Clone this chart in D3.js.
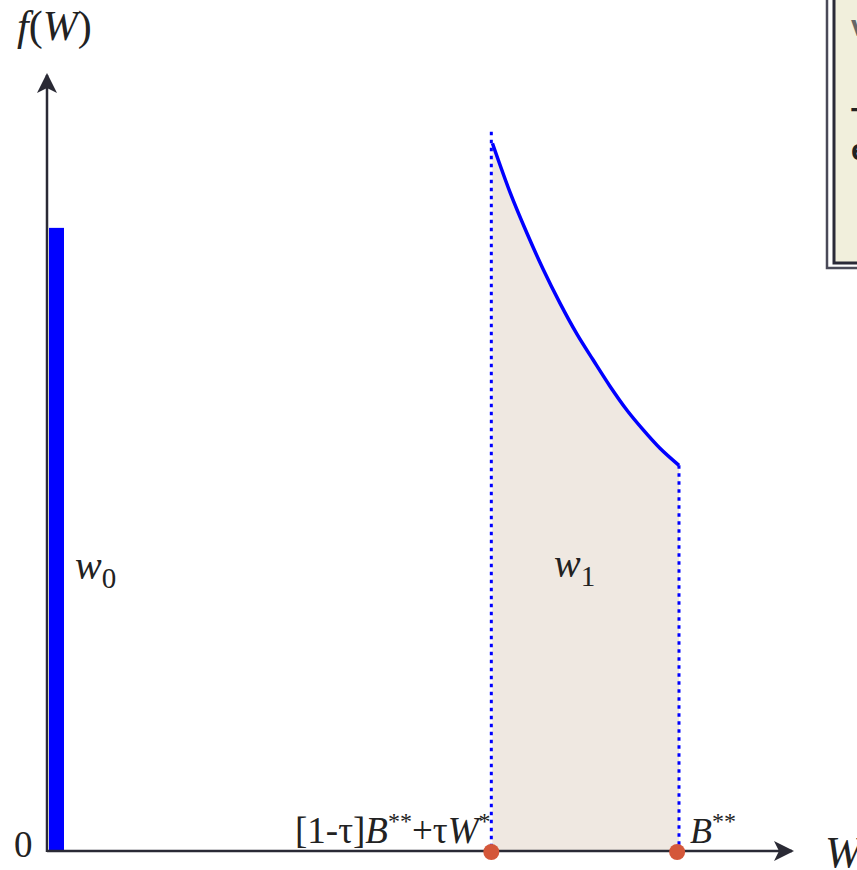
<!DOCTYPE html>
<html>
<head>
<meta charset="utf-8">
<script src="https://cdn.jsdelivr.net/npm/d3@7"></script>
<style>
  html, body { margin: 0; padding: 0; background: #fff; }
  svg { display: block; }
  text.serif { font-family: "Liberation Serif", "Times New Roman", serif; fill: #222; }
  text.note { font-family: "Liberation Sans", Arial, sans-serif; font-weight: bold; }
</style>
</head>
<body>
<svg id="chart" width="857" height="870"></svg>
<script>
// Wealth axis (W) and density axis f(W), arbitrary units
const xDomain = [0, 100];
const yDomain = [0, 1];

// Mass point at W = 0 (height of the w0 spike)
const massPointW = [0];
const massPointHeight = [0.803];

// Support of the continuous part: [1-τ]B** + τW*  to  B**
const lowerBound = [59.8];
const upperBound = [85.06];
const lowerDottedTop = [0.927];

// Density f(W) over the continuous part
const densityW = [59.95, 62.31, 64.60, 66.76, 69.04, 71.33, 73.49, 75.77, 78.06, 80.22, 82.50, 85.06];
const densityF = [0.912, 0.849, 0.796, 0.750, 0.706, 0.666, 0.633, 0.599, 0.568, 0.543, 0.519, 0.497];

const svg = d3.select("#chart");
const x = d3.scaleLinear().domain(xDomain).range([47, 790]);
const y = d3.scaleLinear().domain(yDomain).range([851, 75]);

const density = densityW.map((w, i) => ({ w, f: densityF[i] }));

// Shaded area under the density
svg.append("path")
  .datum(density)
  .attr("d", d3.area().x(d => x(d.w)).y0(y(0)).y1(d => y(d.f)).curve(d3.curveMonotoneX))
  .attr("fill", "#efe8e1");

// Density curve
svg.append("path")
  .datum(density)
  .attr("d", d3.line().x(d => x(d.w)).y(d => y(d.f)).curve(d3.curveMonotoneX))
  .attr("fill", "none")
  .attr("stroke", "#0000ff")
  .attr("stroke-width", 3.5);

// Dotted bounds of the support
const bounds = [
  { w: lowerBound[0], top: lowerDottedTop[0] },
  { w: upperBound[0], top: densityF[densityF.length - 1] }
];
svg.selectAll("line.bound")
  .data(bounds)
  .join("line")
  .attr("class", "bound")
  .attr("x1", d => x(d.w)).attr("x2", d => x(d.w))
  .attr("y1", d => y(d.top)).attr("y2", y(0))
  .attr("stroke", "#0000ff")
  .attr("stroke-width", 3)
  .attr("stroke-dasharray", "3.5,4.5");

// Mass point spike w0
svg.selectAll("rect.mass")
  .data(massPointW.map((w, i) => ({ w, h: massPointHeight[i] })))
  .join("rect")
  .attr("class", "mass")
  .attr("x", d => x(d.w) + 2)
  .attr("y", d => y(d.h))
  .attr("width", 15)
  .attr("height", d => y(0) - y(d.h))
  .attr("fill", "#0000ff");

// Arrowhead
svg.append("defs").append("marker")
  .attr("id", "arrow")
  .attr("viewBox", "0 0 10 10")
  .attr("refX", 9).attr("refY", 5)
  .attr("markerWidth", 20).attr("markerHeight", 20)
  .attr("markerUnits", "userSpaceOnUse")
  .attr("orient", "auto")
  .append("path")
  .attr("d", "M0,0 L10,5 L0,10 L2.5,5 Z")
  .attr("fill", "#2a2a35");

// Axes
svg.append("line")
  .attr("x1", x(0)).attr("x2", x(0))
  .attr("y1", y(0) + 1).attr("y2", 75)
  .attr("stroke", "#2a2a35").attr("stroke-width", 2.5)
  .attr("marker-end", "url(#arrow)");
svg.append("line")
  .attr("x1", x(0)).attr("x2", 792)
  .attr("y1", y(0)).attr("y2", y(0))
  .attr("stroke", "#2a2a35").attr("stroke-width", 2.5)
  .attr("marker-end", "url(#arrow)");

// Support endpoints on the W axis
svg.selectAll("circle.end")
  .data([lowerBound[0], upperBound[0] - 0.25])
  .join("circle")
  .attr("class", "end")
  .attr("cx", d => x(d))
  .attr("cy", y(0) + 1)
  .attr("r", 8)
  .attr("fill", "#d4573a");

// Axis titles
const fw = svg.append("text").attr("class", "serif").attr("x", 17).attr("y", 40).attr("font-size", 42);
fw.append("tspan").attr("font-style", "italic").text("f");
fw.append("tspan").text("(");
fw.append("tspan").attr("font-style", "italic").text("W");
fw.append("tspan").text(")");

svg.append("text").attr("class", "serif").attr("x", 825).attr("y", 867).attr("font-size", 44)
  .attr("font-style", "italic").text("W");

svg.append("text").attr("class", "serif").attr("x", 14).attr("y", 857).attr("font-size", 37).text("0");

// Bound labels
const lb = svg.append("text").attr("class", "serif").attr("x", 295).attr("y", 843).attr("font-size", 37);
lb.append("tspan").text("[1-τ]");
lb.append("tspan").attr("font-style", "italic").text("B");
lb.append("tspan").attr("font-size", 24).attr("dy", -14).text("**");
lb.append("tspan").attr("dy", 14).text("+τ");
lb.append("tspan").attr("font-style", "italic").text("W");
lb.append("tspan").attr("font-size", 24).attr("dy", -14).text("*");

const ub = svg.append("text").attr("class", "serif").attr("x", 690).attr("y", 843).attr("font-size", 36);
ub.append("tspan").attr("font-style", "italic").text("B");
ub.append("tspan").attr("font-size", 24).attr("dy", -14).text("**");

// Region labels
function massLabel(px, py, sub) {
  const t = svg.append("text").attr("class", "serif").attr("x", px).attr("y", py).attr("font-size", 40);
  t.append("tspan").attr("font-style", "italic").text("w");
  t.append("tspan").attr("font-size", 29).attr("dy", 9).text(sub);
}
massLabel(75, 579, "0");
massLabel(554, 577, "1");

// Note box at the right edge
const box = svg.append("g");
box.append("rect").attr("x", 827).attr("y", -10).attr("width", 60).attr("height", 278)
  .attr("fill", "none").attr("stroke", "#4a4a58").attr("stroke-width", 2.5);
box.append("rect").attr("x", 834).attr("y", -10).attr("width", 60).attr("height", 273)
  .attr("fill", "#f1efdc").attr("stroke", "#2a2a38").attr("stroke-width", 3);
const note = box.append("text").attr("class", "note").attr("font-size", 30);
note.append("tspan").attr("x", 851).attr("y", 36).attr("fill", "#666").text("v");
note.append("tspan").attr("x", 851).attr("y", 128).attr("fill", "#222").text("T");
note.append("tspan").attr("x", 851).attr("y", 160).attr("fill", "#222").text("e");
</script>
</body>
</html>
